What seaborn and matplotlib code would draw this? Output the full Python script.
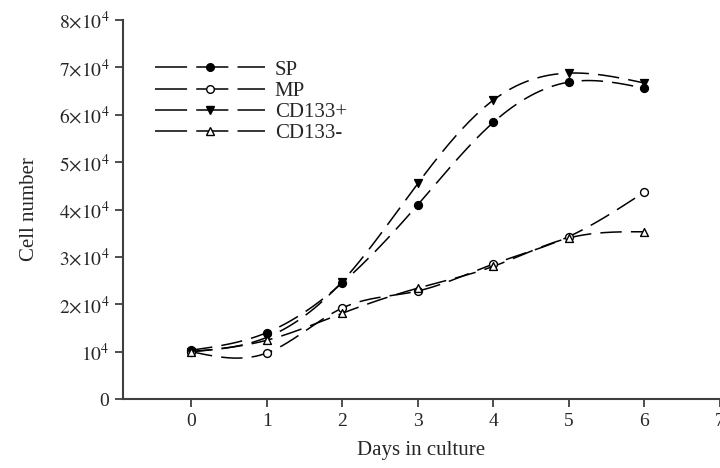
import numpy as np
import pandas as pd
import matplotlib
matplotlib.use("Agg")
import matplotlib.pyplot as plt
import seaborn as sns
from matplotlib.lines import Line2D

# values
days = [0, 1, 2, 3, 4, 5, 6]
sp = [10300, 14000, 24500, 41000, 58400, 66900, 65600]
mp = [10000, 9700, 19200, 22800, 28500, 34300, 43700]
cd133_pos = [10000, 13000, 24800, 45500, 63100, 68800, 66700]
cd133_neg = [10000, 12400, 18100, 23400, 28000, 34000, 35300]

groups = ["SP", "MP", "CD133+", "CD133-"]
series = [sp, mp, cd133_pos, cd133_neg]
markers = {"SP": "o", "MP": "o", "CD133+": "v", "CD133-": "^"}
faces = {"SP": "black", "MP": "white", "CD133+": "black", "CD133-": "white"}

ytick_vals = [0, 10000, 20000, 30000, 40000, 50000, 60000, 70000, 80000]
ytick_labels = ["0", r"$10^4$"] + [r"$%d{\times}10^4$" % i for i in range(2, 9)]


def spline(x, y, n=200):
    # natural cubic spline, only used to draw the smooth connecting curve
    x = np.asarray(x, float)
    y = np.asarray(y, float)
    h = np.diff(x)
    k = len(x)
    A = np.zeros((k, k))
    b = np.zeros(k)
    A[0, 0] = A[-1, -1] = 1
    for i in range(1, k - 1):
        A[i, i - 1] = h[i - 1]
        A[i, i] = 2 * (h[i - 1] + h[i])
        A[i, i + 1] = h[i]
        b[i] = 3 * ((y[i + 1] - y[i]) / h[i] - (y[i] - y[i - 1]) / h[i - 1])
    c = np.linalg.solve(A, b)
    xs = np.linspace(x[0], x[-1], n)
    idx = np.clip(np.searchsorted(x, xs) - 1, 0, k - 2)
    dx = xs - x[idx]
    bb = (y[1:] - y[:-1]) / h - h * (2 * c[:-1] + c[1:]) / 3
    d = (c[1:] - c[:-1]) / (3 * h)
    ys = y[idx] + bb[idx] * dx + c[idx] * dx ** 2 + d[idx] * dx ** 3
    return xs, ys


pts = pd.DataFrame({
    "day": days * 4,
    "cells": sum(series, []),
    "group": np.repeat(groups, len(days)),
})

sns.set_style("ticks")
plt.rcParams["font.family"] = ["Liberation Serif", "DejaVu Serif"]
plt.rcParams["mathtext.fontset"] = "stix"

fig = plt.figure(figsize=(7.2, 4.68), dpi=100)
ax = fig.add_axes([0.171, 0.1474, 0.829, 0.8098])

dash = (14, 6)
for g, vals in zip(groups, series):
    xs, ys = spline(days, vals)
    sns.lineplot(x=xs, y=ys, ax=ax, color="black", lw=1.1, dashes=False,
                 linestyle=(0, dash), legend=False, zorder=2)
    sub = pts[pts.group == g]
    sns.scatterplot(data=sub, x="day", y="cells", ax=ax, marker=markers[g],
                    s=32, color=faces[g], edgecolor="black", linewidth=1.0,
                    legend=False, zorder=3)

ax.set_xlim(-0.9, 6.98)
ax.set_ylim(0, 80000)
ax.set_xticks(range(0, 8))
ax.set_yticks(ytick_vals)
ax.set_yticklabels(ytick_labels)
ax.tick_params(labelsize=14, length=6, width=1.3, color="#404040", pad=4)
for s in ["left", "bottom"]:
    ax.spines[s].set_linewidth(1.5)
    ax.spines[s].set_color("#404040")
sns.despine(ax=ax, top=True, right=True)

ax.set_xlabel("Days in culture", fontsize=15, labelpad=8)
ax.set_ylabel("Cell number", fontsize=15, labelpad=14)

handles = [Line2D([], [], color="black", lw=1.1, linestyle=(0, (21, 6)),
                  marker=markers[g], markerfacecolor=faces[g],
                  markeredgecolor="black", markersize=5.5)
           for g in groups]
ax.legend(handles, groups, loc="upper left", bbox_to_anchor=(155 / 720, 1 - 60 / 468),
          bbox_transform=fig.transFigure, frameon=False, fontsize=15,
          handlelength=5.3, handletextpad=0.45, labelspacing=0.08,
          borderpad=0, borderaxespad=0)

fig.savefig("out.png", dpi=100)
